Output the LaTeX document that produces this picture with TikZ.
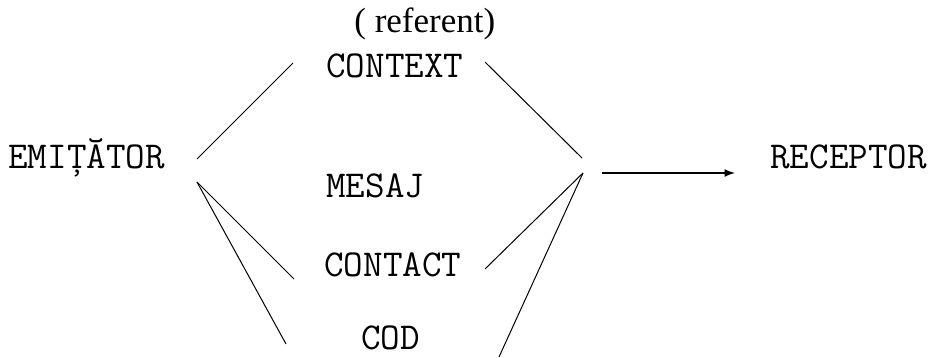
\documentclass[tikz,border=0pt]{standalone}
\usepackage{fontspec}
\setmainfont{Liberation Serif}
\setmonofont{Latin Modern Mono}
\usepackage{tikz}

\tikzset{
  term/.style={font=\ttfamily\fontsize{19}{22}\selectfont, inner sep=0pt, anchor=base west},
  link/.style={line width=0.5pt},
}

\begin{document}
\begin{tikzpicture}[x=0.5pt,y=-0.5pt]
\useasboundingbox (0,0) rectangle (934,358);

\node[inner sep=0pt, anchor=base west, font=\fontsize{17.5}{20}\selectfont] (ref) at (354,33) {( referent)};
\node[term] (emit) at (8,169) {EMIȚĂTOR};
\node[term] (context) at (326,78) {CONTEXT};
\node[term] (mesaj) at (326,198) {MESAJ};
\node[term] (contact) at (324,277) {CONTACT};
\node[term] (cod) at (361,350) {COD};
\node[term] (rec) at (770,169) {RECEPTOR};

% ends of the strokes
\coordinate (e1) at (197,159);
\coordinate (e2) at (197,182);
\coordinate (c1) at (293,63);
\coordinate (c2) at (485,62);
\coordinate (j1) at (582,158);
\coordinate (j2) at (583,173);
\coordinate (t1) at (294,279);
\coordinate (t2) at (485,269);
\coordinate (d1) at (286,344);
\coordinate (d2) at (499,357);
\coordinate (a1) at (602,173);
\coordinate (a2) at (735,173);

\draw[link] (e1) -- (c1) ;
\draw[link] (c2) -- (j1) ;
\draw[link] (e2) -- (t1) ;
\draw[link] (e2) -- (d1) ;
\draw[link] (t2) -- (j2) ;
\draw[link] (d2) -- (j2) ;
\draw[-latex, line width=0.8pt] (a1) -- (a2) ;
\end{tikzpicture}
\end{document}
